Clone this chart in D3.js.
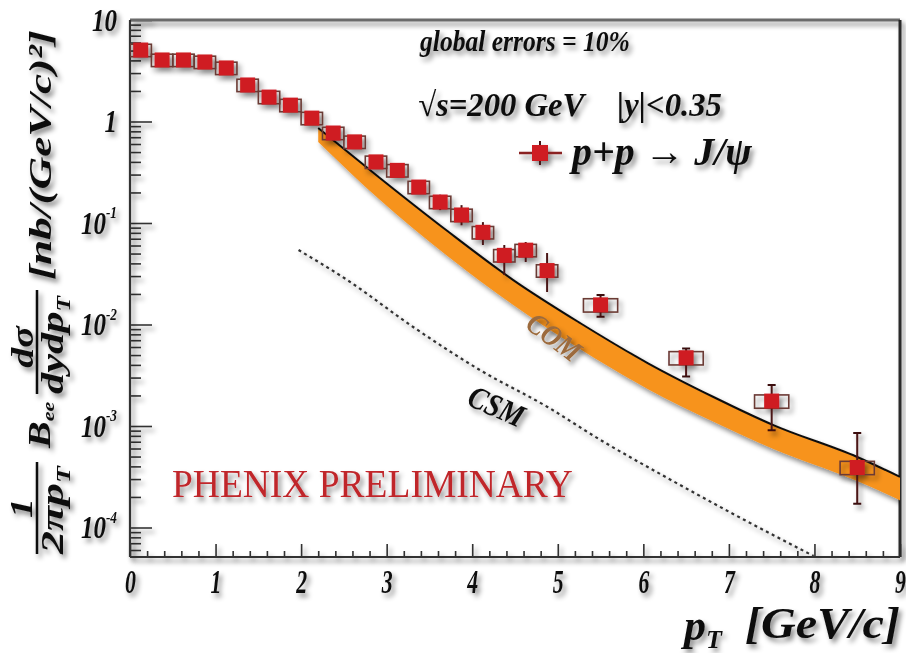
<!DOCTYPE html>
<html>
<head>
<meta charset="utf-8">
<script src="https://cdn.jsdelivr.net/npm/d3@7"></script>
<style>
  html, body { margin: 0; padding: 0; background: #fff; }
  svg { display: block; }
</style>
</head>
<body>
<svg id="chart" width="906" height="653"></svg>
<script>
// J/psi -> e+e- invariant cross section in p+p at sqrt(s) = 200 GeV, |y| < 0.35
const ptBins = [0.125, 0.375, 0.625, 0.875, 1.125, 1.375, 1.625, 1.875, 2.125, 2.375,
                2.625, 2.875, 3.125, 3.375, 3.625, 3.875, 4.125, 4.375, 4.625, 4.875,
                5.5, 6.5, 7.5, 8.5];
const binHalfWidth = [0.125, 0.125, 0.125, 0.125, 0.125, 0.125, 0.125, 0.125, 0.125, 0.125,
                      0.125, 0.125, 0.125, 0.125, 0.125, 0.125, 0.125, 0.125, 0.125, 0.125,
                      0.2, 0.2, 0.2, 0.2];
const crossSection = [5.06, 4.04, 4.04, 3.86, 3.37, 2.29, 1.74, 1.45, 1.08, 0.77,
                      0.63, 0.40, 0.33, 0.226, 0.161, 0.12, 0.081, 0.048, 0.054, 0.034,
                      0.0156, 0.0047, 0.00176, 0.00039];
const statHigh = [5.4, 4.3, 4.3, 4.1, 3.6, 2.45, 1.87, 1.56, 1.17, 0.84,
                  0.69, 0.44, 0.37, 0.26, 0.19, 0.15, 0.102, 0.0607, 0.065, 0.0506,
                  0.0195, 0.0058, 0.00254, 0.000853];
const statLow = [4.7, 3.8, 3.8, 3.6, 3.15, 2.13, 1.61, 1.34, 0.99, 0.70,
                 0.57, 0.36, 0.29, 0.195, 0.134, 0.095, 0.0607, 0.0307, 0.0413, 0.0209,
                 0.0119, 0.00308, 0.00091, 0.000171];
const sysRel = [0.14, 0.14, 0.14, 0.14, 0.14, 0.14, 0.14, 0.14, 0.14, 0.14,
                0.14, 0.14, 0.14, 0.14, 0.14, 0.14, 0.14, 0.14, 0.14, 0.14,
                0.15, 0.15, 0.15, 0.15];

// Color-octet (COM) prediction band
const comPt   = [2.2, 2.92, 3.71, 4.48, 5.26, 6.05, 6.82, 7.52, 8.5, 9.0];
const comHigh = [0.863, 0.278, 0.0834, 0.0274, 0.01035, 0.00417, 0.00193, 0.00102, 0.000495, 0.000315];
const comLow  = [0.628, 0.169, 0.0473, 0.0156, 0.00574, 0.00232, 0.0011, 0.000593, 0.000287, 0.000186];

// Color-singlet (CSM) prediction
const csmPt     = [1.97, 2.54, 3.31, 4.09, 4.88, 5.50, 6.28, 7.05, 7.99];
const csmValues = [0.0542, 0.0274, 0.00945, 0.00356, 0.00154, 0.000728, 0.000308, 0.000136, 0.0000524];

const xTickValues = [0, 1, 2, 3, 4, 5, 6, 7, 8, 9];
const yTickValues = [1e-4, 1e-3, 1e-2, 1e-1, 1, 10];
const yTickBase   = ["10", "10", "10", "10", "1", "10"];
const yTickExp    = ["-4", "-3", "-2", "-1", "", ""];

const FONT = '"Liberation Serif", "Times New Roman", serif';
const svg = d3.select("#chart");
const frame = { left: 130, right: 900, top: 20, bottom: 557 };

const defs = svg.append("defs");
const sh = defs.append("filter").attr("id", "shadow")
  .attr("x", "-30%").attr("y", "-30%").attr("width", "160%").attr("height", "160%");
sh.append("feDropShadow").attr("dx", 3).attr("dy", 4).attr("stdDeviation", 2.8)
  .attr("flood-color", "#000").attr("flood-opacity", 0.45);
defs.append("clipPath").attr("id", "plotClip").append("rect")
  .attr("x", frame.left).attr("y", frame.top)
  .attr("width", frame.right - frame.left).attr("height", frame.bottom - frame.top);

const x = d3.scaleLinear().domain([0, 9]).range([frame.left, frame.right]);
const yMin = Math.pow(10, 1 - (frame.bottom - frame.top) / 101.5);
const y = d3.scaleLog().domain([yMin, 10]).range([frame.bottom, frame.top]);

function styleText(sel, opts = {}) {
  return sel.style("font-family", opts.family || FONT)
    .style("font-weight", opts.weight || "bold")
    .style("font-style", opts.style || "italic")
    .style("fill", opts.fill || "#111");
}

// ---------- axes ----------
const xMinor = d3.range(0, 9.001, 0.2).filter(v => Math.abs(v - Math.round(v)) > 1e-6);
const yMinor = [];
for (let e = -5; e <= 0; e++) for (let m = 2; m <= 9; m++) {
  const v = m * Math.pow(10, e);
  if (v > yMin && v < 10) yMinor.push(v);
}

const axesG = svg.append("g").attr("filter", "url(#shadow)");

const xMinorG = axesG.append("g").attr("transform", `translate(0,${frame.bottom})`)
  .call(d3.axisBottom(x).tickValues(xMinor).tickSize(-6).tickFormat(""));
const xMajorG = axesG.append("g").attr("transform", `translate(0,${frame.bottom})`)
  .call(d3.axisBottom(x).tickValues(xTickValues).tickSize(-13).tickPadding(12).tickFormat(d3.format("d")));
const yMinorG = axesG.append("g").attr("transform", `translate(${frame.left},0)`)
  .call(d3.axisLeft(y).tickValues(yMinor).tickSize(-11).tickFormat(""));
const yMajorG = axesG.append("g").attr("transform", `translate(${frame.left},0)`)
  .call(d3.axisLeft(y).tickValues(yTickValues).tickSize(-22).tickFormat(""));

[xMinorG, xMajorG, yMinorG, yMajorG].forEach(g => {
  g.select(".domain").remove();
  g.selectAll(".tick line").attr("stroke", "#333").attr("stroke-width", 1.6);
});

styleText(xMajorG.selectAll(".tick text"))
  .attr("font-size", 34)
  .attr("transform", "scale(0.64,1)");

const ySx = 0.78;
yMajorG.selectAll(".tick").each(function (d, i) {
  const t = d3.select(this).append("text")
    .attr("text-anchor", "end")
    .attr("font-size", 32)
    .attr("x", -13 / ySx).attr("dy", "0.32em")
    .attr("transform", `scale(${ySx},1)`);
  styleText(t);
  t.append("tspan").text(yTickBase[i]);
  if (yTickExp[i]) t.append("tspan").attr("font-size", 17).attr("dy", "-0.9em").text(yTickExp[i]);
});

// frame
const frameG = svg.append("g").attr("filter", "url(#shadow)");
frameG.append("line").attr("x1", frame.left).attr("x2", frame.right).attr("y1", frame.top).attr("y2", frame.top)
  .attr("stroke", "#6a6a6a").attr("stroke-width", 3);
frameG.append("line").attr("x1", frame.right).attr("x2", frame.right).attr("y1", frame.top).attr("y2", frame.bottom)
  .attr("stroke", "#2a2a2a").attr("stroke-width", 3);
frameG.append("line").attr("x1", frame.left).attr("x2", frame.left).attr("y1", frame.top).attr("y2", frame.bottom)
  .attr("stroke", "#333").attr("stroke-width", 2.2);
frameG.append("line").attr("x1", frame.left).attr("x2", frame.right).attr("y1", frame.bottom).attr("y2", frame.bottom)
  .attr("stroke", "#333").attr("stroke-width", 2.2);

// ---------- theory curves ----------
const plotG = svg.append("g").attr("clip-path", "url(#plotClip)");
const comData = comPt.map((p, i) => ({ pt: p, hi: comHigh[i], lo: comLow[i] }));
const comG = plotG.append("g").attr("filter", "url(#shadow)");
comG.append("path").datum(comData)
  .attr("d", d3.area().x(d => x(d.pt)).y0(d => y(d.lo)).y1(d => y(d.hi)).curve(d3.curveMonotoneX))
  .attr("fill", "#f7931e");
comG.append("path").datum(comData)
  .attr("d", d3.line().x(d => x(d.pt)).y(d => y(d.hi)).curve(d3.curveMonotoneX))
  .attr("fill", "none").attr("stroke", "#111").attr("stroke-width", 2);

const csmData = csmPt.map((p, i) => ({ pt: p, v: csmValues[i] }));
plotG.append("path").datum(csmData)
  .attr("filter", "url(#shadow)")
  .attr("d", d3.line().x(d => x(d.pt)).y(d => y(d.v)).curve(d3.curveMonotoneX))
  .attr("fill", "none").attr("stroke", "#333").attr("stroke-width", 2.2)
  .attr("stroke-dasharray", "3,3.5");

// ---------- data points ----------
const pts = ptBins.map((p, i) => ({
  pt: p, v: crossSection[i], hi: statHigh[i], lo: statLow[i], hw: binHalfWidth[i], sys: sysRel[i]
}));
const dataG = plotG.append("g").attr("filter", "url(#shadow)");
// systematic boxes
dataG.selectAll("rect.sys").data(pts).join("rect").attr("class", "sys")
  .attr("x", d => x(d.pt - d.hw)).attr("width", d => x(d.pt + d.hw) - x(d.pt - d.hw))
  .attr("y", d => y(d.v * (1 + d.sys))).attr("height", d => y(d.v * (1 - d.sys)) - y(d.v * (1 + d.sys)))
  .attr("fill", "none").attr("stroke", "#6b3a34").attr("stroke-width", 1.6);
// statistical error bars
dataG.selectAll("line.stat").data(pts).join("line").attr("class", "stat")
  .attr("x1", d => x(d.pt)).attr("x2", d => x(d.pt))
  .attr("y1", d => y(d.hi)).attr("y2", d => y(d.lo))
  .attr("stroke", "#4a1414").attr("stroke-width", 2);
dataG.selectAll("path.cap").data(pts.filter(d => d.pt > 5)).join("path").attr("class", "cap")
  .attr("d", d => `M${x(d.pt) - 4},${y(d.hi)}h8M${x(d.pt) - 4},${y(d.lo)}h8`)
  .attr("stroke", "#3a1010").attr("stroke-width", 2);
// markers
dataG.selectAll("rect.mk").data(pts).join("rect").attr("class", "mk")
  .attr("x", d => x(d.pt) - 7.5).attr("y", d => y(d.v) - 7.5)
  .attr("width", 15).attr("height", 15)
  .attr("fill", "#cf1c22");

// ---------- text helper ----------
function addText(parent, o) {
  const t = parent.append("text")
    .attr("font-size", o.size)
    .attr("text-anchor", o.anchor || "start");
  styleText(t, o);
  (o.parts || [[o.text, 0, o.size]]).forEach(p => {
    const ts = t.append("tspan").text(p[0]).attr("font-size", p[2] || o.size);
    if (p[1]) ts.attr("dy", p[1]);
  });
  let f = o.f || 1;
  if (o.len) f = o.len / t.node().getComputedTextLength();
  const c = o.c || 1;
  t.attr("transform", `translate(${o.x},${o.y}) rotate(${o.rot || 0}) scale(${f},${c})`);
  return t;
}

const textG = svg.append("g").attr("filter", "url(#shadow)");

addText(textG, { x: 420, y: 51, size: 30, text: "global errors = 10%", len: 210 });
addText(textG, { x: 418, y: 116, size: 34, text: "\u221As=200 GeV\u2003|y|<0.35", len: 304 });
addText(textG, { x: 572, y: 165, size: 40, text: "p+p \u2192 J/\u03C8", len: 180 });

// legend marker
const legG = svg.append("g").attr("filter", "url(#shadow)");
legG.append("line").attr("x1", 519).attr("x2", 562).attr("y1", 153).attr("y2", 153)
  .attr("stroke", "#8a2020").attr("stroke-width", 2.5);
legG.append("line").attr("x1", 540).attr("x2", 540).attr("y1", 141).attr("y2", 165)
  .attr("stroke", "#4a1414").attr("stroke-width", 2);
legG.append("rect").attr("x", 532).attr("y", 145).attr("width", 16).attr("height", 16).attr("fill", "#cf1c22");

addText(textG, { x: 548, y: 345, size: 30, text: "COM", anchor: "middle", rot: 37, len: 60, fill: "#9c6b3c" });
addText(textG, { x: 492, y: 416, size: 32, text: "CSM", anchor: "middle", rot: 24, len: 58 });

addText(textG, { x: 172, y: 497, size: 40, text: "PHENIX PRELIMINARY", len: 401,
  weight: "normal", style: "normal", fill: "#c0282c" });

// x-axis title
addText(textG, { x: 684, y: 640, size: 44, parts: [["p", 0, 44], ["T", "0.3em", 26]] });
addText(textG, { x: 745, y: 638, size: 42, text: "[GeV/c]", len: 155, c: 1.08 });

// y-axis title (reads bottom to top)
const yc = 0.8;
const ytG = textG.append("g");
ytG.append("line").attr("x1", 37).attr("x2", 37).attr("y1", 462).attr("y2", 554).attr("stroke", "#111").attr("stroke-width", 2.5);
ytG.append("line").attr("x1", 37).attr("x2", 37).attr("y1", 290).attr("y2", 394).attr("stroke", "#111").attr("stroke-width", 2.5);
addText(ytG, { x: 32, y: 508, size: 40, text: "1", anchor: "middle", rot: -90, c: yc });
addText(ytG, { x: 63, y: 554, size: 40, parts: [["2\u03C0p", 0, 40], ["T", "0.35em", 24]], rot: -90, c: yc, len: 88 });
addText(ytG, { x: 50, y: 448, size: 40, parts: [["B", 0, 40], ["ee", "0.2em", 22]], rot: -90, c: yc });
addText(ytG, { x: 33, y: 347, size: 40, text: "d\u03C3", anchor: "middle", rot: -90, c: yc });
addText(ytG, { x: 63, y: 394, size: 40, parts: [["dydp", 0, 40], ["T", "0.35em", 24]], rot: -90, c: yc, len: 98 });
addText(ytG, { x: 51, y: 280, size: 40, text: "[nb/(GeV/c)\u00B2]", rot: -90, c: yc, len: 250 });
</script>
</body>
</html>
